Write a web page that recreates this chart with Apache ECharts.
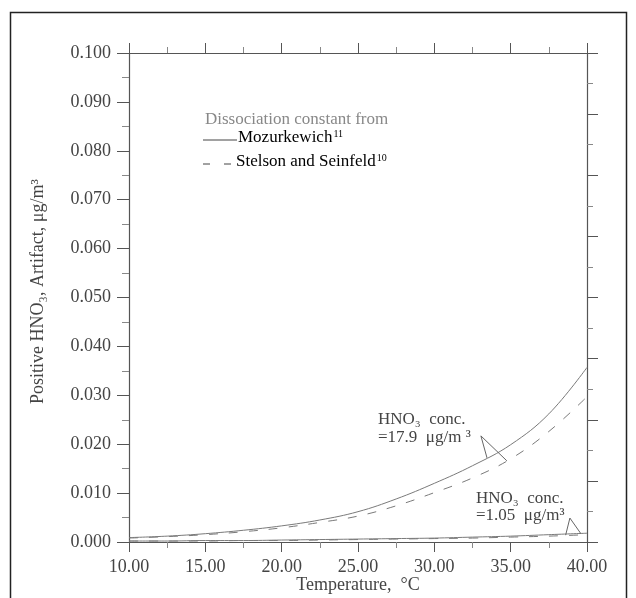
<!DOCTYPE html>
<html>
<head>
<meta charset="utf-8">
<script src="https://cdn.jsdelivr.net/npm/echarts@6/dist/echarts.min.js"></script>
<style>
  html, body { margin: 0; padding: 0; background: #fff; }
  #chart { width: 636px; height: 598px; }
</style>
</head>
<body>
<div id="chart"></div>
<script>
// Temperature grid, °C
const temperatures = [10, 12.5, 15, 17.5, 20, 22.5, 25, 27.5, 30, 32.5, 35, 37.5, 40];

// Positive HNO3 artifact (µg/m³), HNO3 conc. = 17.9 µg/m³
const mozurkewichHigh = [0.0009, 0.0012, 0.0017, 0.0024, 0.0033, 0.0045, 0.0062, 0.0088, 0.0120, 0.0156, 0.0199, 0.0262, 0.0357];
const stelsonHigh     = [0.0008, 0.0011, 0.0015, 0.0021, 0.0029, 0.0040, 0.0053, 0.0074, 0.0101, 0.0131, 0.0170, 0.0226, 0.0297];

// Positive HNO3 artifact (µg/m³), HNO3 conc. = 1.05 µg/m³
const mozurkewichLow = [0.0002, 0.0002, 0.0003, 0.0003, 0.0004, 0.0005, 0.0006, 0.0007, 0.0008, 0.0010, 0.0012, 0.0015, 0.0018];
const stelsonLow     = [0.0002, 0.0002, 0.0002, 0.0003, 0.0003, 0.0004, 0.0005, 0.0006, 0.0007, 0.0008, 0.0010, 0.0012, 0.0015];

// Leader lines from the concentration notes to their curves
const leaderHigh = [[33.45, 0.0172], [33.05, 0.0217], [34.75, 0.0166]];
const leaderLow  = [[38.6, 0.0014], [38.88, 0.0049], [39.6, 0.0017]];

const FONT = '"Liberation Serif", "Times New Roman", serif';
const INK = '#444';
const AXIS = '#555';
const CURVE = '#7a7a7a';

const pairs = (xs, ys) => xs.map((x, i) => [x, ys[i]]);

function curve(name, values, dashed) {
  return {
    name, type: 'line', smooth: 0.4, symbol: 'none', silent: true,
    data: pairs(temperatures, values),
    lineStyle: { color: CURVE, width: 1, type: dashed ? [9, 11] : 'solid' }
  };
}
function leader(points) {
  return {
    type: 'line', symbol: 'none', silent: true, data: points,
    lineStyle: { color: '#666', width: 1 }
  };
}

// rich-text styles for key entries with superscript reference numbers
const keyRich = {
  t: { fontFamily: FONT, fontSize: 17, color: '#333' },
  sup: { fontFamily: FONT, fontSize: 10, color: '#333', verticalAlign: 'top', padding: [0, 0, 8, 1] }
};

const chart = echarts.init(document.getElementById('chart'), null, { renderer: 'canvas' });

const tickStyle = { color: AXIS, width: 1 };
const minorStyle = { color: '#888', width: 1 };

chart.setOption({
  animation: false,
  backgroundColor: '#fff',
  grid: { left: 129, right: 49, top: 53, bottom: 56, containLabel: false, outerBoundsMode: 'none' },
  xAxis: [
    {
      type: 'value', position: 'bottom', min: 10, max: 40, interval: 5,
      name: 'Temperature,  °C', nameLocation: 'middle', nameGap: 34, nameMoveOverlap: false,
      nameTextStyle: { fontFamily: FONT, fontSize: 18, color: INK },
      axisLine: { show: true, onZero: false, lineStyle: { color: AXIS, width: 1.2 } },
      axisTick: { show: true, length: 10, lineStyle: tickStyle },
      minorTick: { show: true, splitNumber: 2, length: 6, lineStyle: minorStyle },
      axisLabel: { margin: 16, fontFamily: FONT, fontSize: 18, color: INK, formatter: v => v.toFixed(2) },
      splitLine: { show: false }
    },
    {
      type: 'value', position: 'top', min: 10, max: 40, interval: 5,
      axisLine: { show: true, onZero: false, lineStyle: { color: AXIS, width: 1.2 } },
      axisTick: { show: true, length: 10, lineStyle: tickStyle },
      minorTick: { show: true, splitNumber: 2, length: 6, lineStyle: minorStyle },
      axisLabel: { show: false },
      splitLine: { show: false }
    }
  ],
  yAxis: [
    {
      type: 'value', position: 'left', min: 0, max: 0.1, interval: 0.01,
      name: 'Positive HNO₃, Artifact, μg/m³', nameLocation: 'middle', nameGap: 82, nameMoveOverlap: false,
      nameTextStyle: { fontFamily: FONT, fontSize: 18, color: INK, padding: [0, 0, 0, 12] },
      axisLine: { show: true, onZero: false, lineStyle: { color: AXIS, width: 1.2 } },
      axisTick: { show: true, length: 12, lineStyle: tickStyle },
      minorTick: { show: true, splitNumber: 2, length: 7, lineStyle: minorStyle },
      axisLabel: { margin: 18, fontFamily: FONT, fontSize: 18, color: INK, formatter: v => v.toFixed(3) },
      splitLine: { show: false }
    },
    {
      type: 'value', position: 'right', min: 0, max: 0.1, interval: 0.0125,
      axisLine: { show: true, onZero: false, lineStyle: { color: AXIS, width: 1.2 } },
      axisTick: { show: true, length: 11, lineStyle: tickStyle },
      minorTick: { show: true, splitNumber: 2, length: 6, lineStyle: minorStyle },
      axisLabel: { show: false },
      splitLine: { show: false }
    }
  ],
  series: [
    curve('Mozurkewich, 17.9', mozurkewichHigh, false),
    curve('Stelson and Seinfeld, 17.9', stelsonHigh, true),
    curve('Mozurkewich, 1.05', mozurkewichLow, false),
    curve('Stelson and Seinfeld, 1.05', stelsonLow, true),
    leader(leaderHigh),
    leader(leaderLow)
  ],
  graphic: [
    // outer frame
    { type: 'rect', shape: { x: 10.5, y: 12.5, width: 616, height: 610 },
      style: { fill: 'none', stroke: '#222', lineWidth: 1.5 }, silent: true },
    // key
    { type: 'text', x: 205, y: 120,
      style: { text: 'Dissociation constant from', font: '17px ' + FONT, fill: '#888', verticalAlign: 'middle' } },
    { type: 'line', shape: { x1: 203, y1: 140, x2: 237, y2: 140 }, style: { stroke: '#444', lineWidth: 1 } },
    { type: 'text', x: 238, y: 138,
      style: { text: '{t|Mozurkewich}{sup|11}', rich: keyRich, verticalAlign: 'middle' } },
    { type: 'line', shape: { x1: 203, y1: 164, x2: 235, y2: 164 }, style: { stroke: '#444', lineWidth: 1, lineDash: [7, 14] } },
    { type: 'text', x: 236, y: 162,
      style: { text: '{t|Stelson and Seinfeld}{sup|10}', rich: keyRich, verticalAlign: 'middle' } },
    // concentration notes
    { type: 'text', x: 378, y: 420,
      style: { text: 'HNO₃  conc.', font: '17px ' + FONT, fill: INK, verticalAlign: 'middle' } },
    { type: 'text', x: 378, y: 438,
      style: { text: '=17.9  μg/m ³', font: '17px ' + FONT, fill: INK, verticalAlign: 'middle' } },
    { type: 'text', x: 476, y: 499,
      style: { text: 'HNO₃  conc.', font: '17px ' + FONT, fill: INK, verticalAlign: 'middle' } },
    { type: 'text', x: 476, y: 516,
      style: { text: '=1.05  μg/m³', font: '17px ' + FONT, fill: INK, verticalAlign: 'middle' } }
  ]
});
</script>
</body>
</html>
